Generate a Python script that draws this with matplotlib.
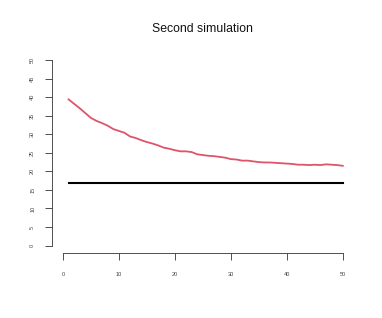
import matplotlib
matplotlib.use('Agg')
import matplotlib.pyplot as plt
import numpy as np

# simulation results, one value per step
steps = list(range(1, 51))
sim_values = [39.4, 38.2, 37.0, 35.7, 34.4, 33.6, 33.0, 32.3, 31.4, 30.9,
              30.4, 29.4, 29.0, 28.4, 27.9, 27.5, 27.0, 26.4, 26.1, 25.7,
              25.4, 25.4, 25.2, 24.6, 24.4, 24.2, 24.1, 23.9, 23.7, 23.3,
              23.2, 22.9, 22.9, 22.7, 22.5, 22.4, 22.4, 22.3, 22.2, 22.1,
              22.0, 21.8, 21.8, 21.7, 21.8, 21.7, 21.9, 21.8, 21.7, 21.5]
reference_level = 17
xticks = [0, 10, 20, 30, 40, 50]
yticks = [0, 5, 10, 15, 20, 25, 30, 35, 40, 45, 50]

plt.rcParams['font.family'] = ['Liberation Sans', 'DejaVu Sans']

fig = plt.figure(figsize=(3.82, 3.18), dpi=100)
ax = fig.add_axes([0.1356, 0.2044, 0.791, 0.630])

ax.plot(steps, sim_values, color='#DF536B', linewidth=1.3)
ax.plot(steps, [reference_level] * len(steps), color='black', linewidth=1.5)

# R-style axes: 4% padding, no box
ax.set_xlim(-2, 52)
ax.set_ylim(-2, 52)
for s in ['top', 'right']:
    ax.spines[s].set_visible(False)
ax.spines['left'].set_bounds(0, 50)
ax.spines['bottom'].set_bounds(0, 50)
for s in ['left', 'bottom']:
    ax.spines[s].set_linewidth(0.6)
    ax.spines[s].set_color('#333333')

ax.set_xticks(xticks)
ax.set_yticks(yticks)
ax.tick_params(length=5, width=0.6, color='#333333', labelsize=4,
               labelcolor='#444444')
ax.tick_params(axis='y', pad=7)
ax.tick_params(axis='x', pad=9)
for lab in ax.get_yticklabels():
    lab.set_rotation(90)
    lab.set_va('center')

fig.text(0.531, 0.91, 'Second simulation', ha='center', va='center',
         fontsize=8.8, color='#111111')

plt.savefig('out.png', dpi=100)
